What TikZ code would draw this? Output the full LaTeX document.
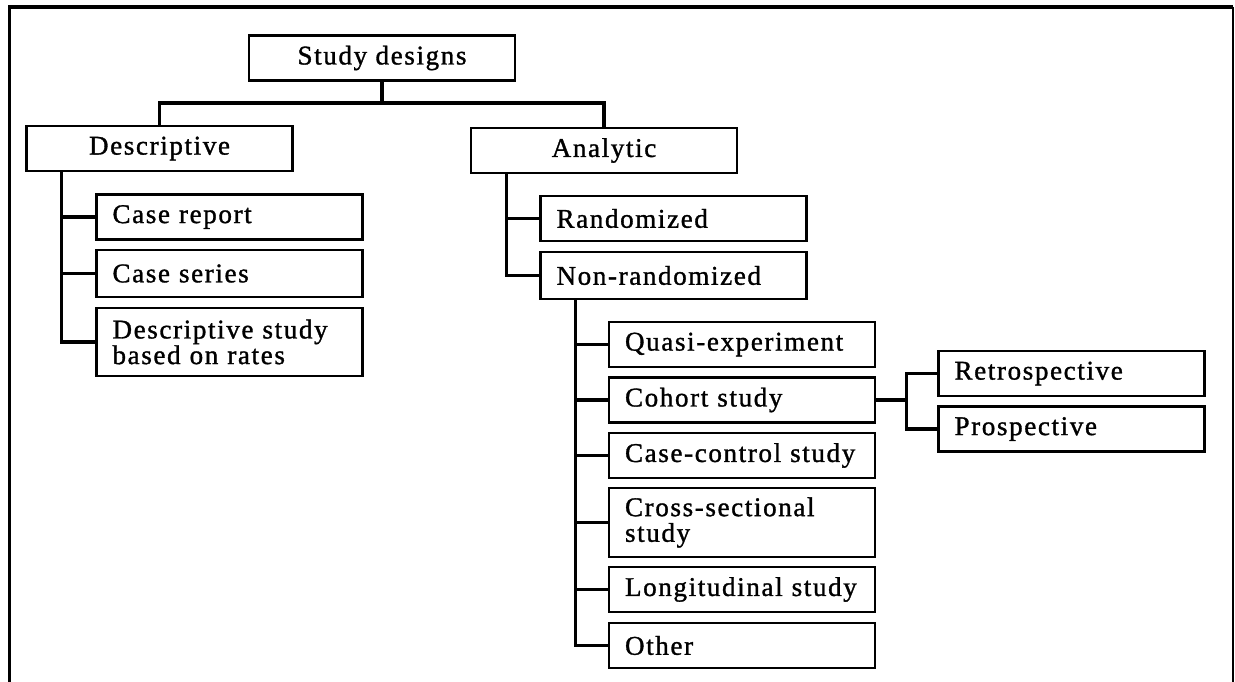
\documentclass[tikz,border=0pt]{standalone}
\usepackage{fontspec}
\setmainfont{Liberation Serif}[LetterSpace=6,FakeBold=1.2]
\usepackage{tikz}

\tikzset{
	box/.style={draw, line width=1.4pt, minimum width=5.32cm, minimum height=0.9cm,
		inner sep=0pt, font=\fontsize{15.4}{14.6}\selectfont},
	leaf/.style={box, text width=4.68cm, inner xsep=0.32cm, align=left},
	tall/.style={minimum height=1.37cm},
	link/.style={line width=1.8pt},
}

\begin{document}
\begin{tikzpicture}[x=0.02cm,y=-0.02cm]
				\useasboundingbox (0,0) rectangle (1235,682);
				\draw[line width=2pt] (9.5,682) -- (9.5,7) -- (1233,7);
				\draw[line width=1.3pt] (1233,7) -- (1233,682);
				
				\node[box] (sd) at (382,58) {Study designs};
				\node[box] (desc) at (159.5,148.5) {Descriptive};
				\node[box] (anal) at (604,150.5) {Analytic};
				
				\node[leaf] (crep) at (229.5,217) {Case report};
				\node[leaf,minimum height=0.94cm] (cser) at (229.5,273.5) {Case series};
				\node[leaf,tall] (drate) at (229.5,342) {Descriptive study\\based on rates};
				
				\node[leaf] (rand) at (673.5,218.5) {Randomized};
				\node[leaf,minimum height=0.94cm] (nonrand) at (673.5,275.5) {Non-randomized};
				
				\node[leaf] (quasi) at (742,344.5) {Quasi-experiment};
				\node[leaf] (cohort) at (742,400) {Cohort study};
				\node[leaf] (casectl) at (742,455.5) {Case-control study};
				\node[leaf,tall] (cross) at (742,522.5) {Cross-sectional\\study};
				\node[leaf] (longi) at (742,589.5) {Longitudinal study};
				\node[leaf] (other) at (742,645.5) {Other};
				
				\node[leaf] (retro) at (1071.5,373.5) {Retrospective};
				\node[leaf] (prosp) at (1071.5,429) {Prospective};
				
				\coordinate (top) at (382,103);
				\draw[link] (sd.south) -- (top);
				\draw[link] (desc.north) |- (top) -| (anal.north);
				
				\foreach \n in {crep,cser,drate}
					\draw[link] (desc.south west) ++(36,0) |- (\n.west);
				\foreach \n in {rand,nonrand}
					\draw[link] (anal.south west) ++(37,0) |- (\n.west);
				\foreach \n in {quasi,cohort,casectl,cross,longi,other}
					\draw[link] (nonrand.south west) ++(36,0) |- (\n.west);
				\foreach \n in {retro,prosp}
					\draw[link] (cohort.east) -- ++(30,0) |- (\n.west);
\end{tikzpicture}
\end{document}
